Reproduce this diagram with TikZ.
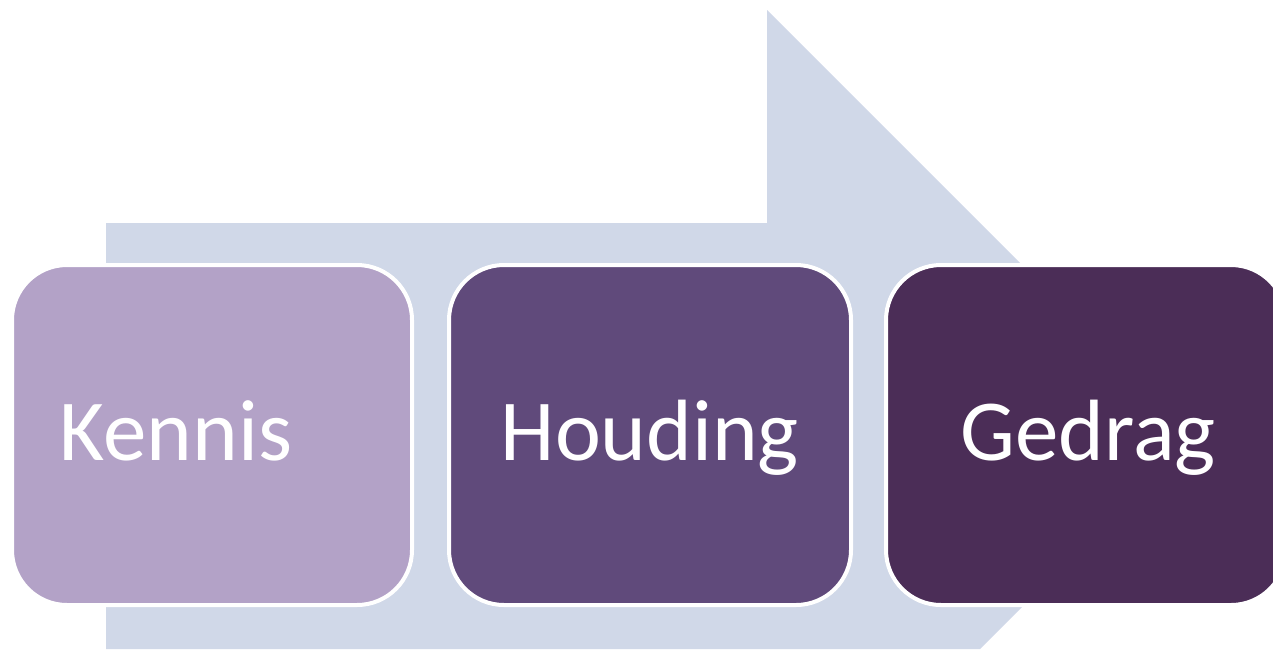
\documentclass[tikz,border=0pt]{standalone}
\usepackage{fontspec}
\setmainfont{Carlito}
\definecolor{flowarrow}{HTML}{D0D8E8}
\definecolor{kenniscol}{HTML}{B3A2C7}
\definecolor{houdingcol}{HTML}{604A7B}
\definecolor{gedragcol}{HTML}{4B2D57}
\tikzset{
    stepbox/.style={draw=white, line width=4pt, rounded corners=55pt,
        minimum width=400pt, minimum height=340pt, inner sep=0pt},
    steplabel/.style={anchor=base, text=white, inner sep=0pt,
        font=\fontsize{87}{100}\selectfont}
}
\begin{document}
\begin{tikzpicture}[x=1pt, y=-1pt]
    \useasboundingbox (0,0) rectangle (1273,649);
    \clip (0,0) rectangle (1273,649);
    \fill[flowarrow] (106,223) -- (767,223) -- (767,10) -- (1193,436)
        -- (980,649) -- (106,649) -- cycle;
    \node[stepbox, fill=kenniscol] (kennis) at (212,435) {};
    \node[stepbox, fill=houdingcol, minimum width=402pt] (houding) at (650,435) {};
    \node[stepbox, fill=gedragcol] (gedrag) at (1086,435) {};
    \node[steplabel] (kennistext) at (176,460) {Kennis};
    \node[steplabel] (houdingtext) at (650,460) {Houding};
    \node[steplabel] (gedragtext) at (1088,460) {Gedrag};
\end{tikzpicture}
\end{document}
